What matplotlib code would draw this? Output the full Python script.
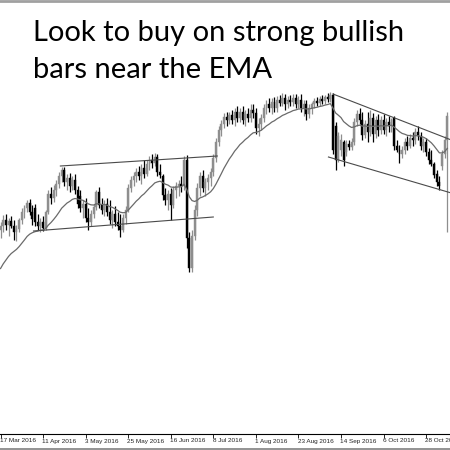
import numpy as np
import matplotlib
matplotlib.use("Agg")
import matplotlib.pyplot as plt

# daily bars, 17 Mar 2016 onwards (prices in chart points)
opens = [70, 74, 80, 75, 79, 74, 68, 71, 80, 88, 92, 97, 88, 92, 78, 74, 78, 72, 88, 106,
         102, 110, 116, 124, 130, 118, 122, 114, 120, 110, 104, 92, 96, 82, 78, 86, 93, 108, 95, 90,
         96, 88, 80, 86, 78, 74, 70, 82, 90, 112, 120, 124, 128, 124, 132, 126, 136, 140, 137, 143,
         128, 124, 105, 100, 106, 95, 110, 114, 116, 114, 140, 62, 32, 64, 90, 112, 124, 112, 118, 122,
         128, 142, 158, 170, 176, 183, 180, 185, 180, 188, 182, 188, 180, 186, 182, 190, 187, 172, 176, 182,
         192, 196, 192, 198, 192, 200, 197, 202, 196, 200, 198, 202, 196, 200, 192, 196, 186, 192, 196, 199,
         197, 201, 199, 203, 201, 205, 174, 140, 150, 158, 148, 156, 153, 158, 178, 186, 180, 165, 176, 168,
         182, 166, 180, 170, 180, 170, 178, 174, 182, 154, 150, 146, 150, 158, 154, 162, 160, 168, 164, 154,
         158, 148, 140, 136, 126, 118, 134, 146, 160]
highs = [78, 85, 86, 82, 84, 80, 75, 82, 92, 95, 100, 101, 95, 96, 86, 82, 84, 90, 110, 113,
         115, 120, 128, 133, 133, 126, 127, 124, 126, 114, 110, 100, 102, 92, 90, 96, 110, 113, 102, 100,
         102, 100, 90, 94, 88, 86, 86, 94, 116, 124, 128, 132, 134, 136, 140, 140, 144, 146, 147, 146,
         136, 126, 112, 110, 112, 114, 118, 120, 124, 144, 145, 68, 70, 95, 117, 128, 130, 122, 126, 132,
         146, 162, 174, 180, 187, 188, 188, 190, 192, 194, 192, 194, 190, 192, 196, 196, 192, 182, 186, 196,
         200, 202, 202, 203, 204, 205, 207, 206, 204, 205, 206, 206, 204, 206, 200, 200, 196, 198, 202, 203,
         204, 205, 205, 207, 208, 207, 178, 168, 166, 160, 160, 160, 162, 182, 190, 192, 188, 180, 188, 190,
         187, 184, 186, 184, 186, 182, 184, 182, 184, 160, 155, 154, 162, 164, 166, 168, 172, 174, 168, 162,
         162, 152, 150, 138, 130, 124, 150, 164, 188]
lows = [62, 68, 70, 64, 72, 60, 59, 68, 76, 82, 88, 85, 75, 74, 70, 68, 69, 70, 86, 96,
        98, 104, 112, 118, 114, 110, 108, 110, 106, 92, 88, 82, 78, 70, 74, 82, 90, 92, 86, 84,
        84, 76, 72, 74, 70, 63, 68, 76, 88, 108, 114, 118, 120, 116, 122, 124, 130, 132, 134, 124,
        122, 100, 95, 90, 80, 92, 102, 104, 108, 110, 52, 28, 28, 60, 84, 104, 108, 104, 110, 114,
        124, 138, 154, 164, 172, 174, 176, 176, 174, 178, 178, 176, 174, 178, 178, 182, 166, 164, 170, 178,
        186, 188, 186, 188, 188, 194, 194, 190, 192, 194, 194, 192, 192, 188, 184, 180, 182, 186, 192, 194,
        194, 196, 196, 198, 198, 146, 130, 138, 144, 134, 144, 150, 150, 155, 174, 176, 160, 162, 158, 164,
        158, 162, 164, 166, 166, 164, 168, 168, 150, 148, 137, 142, 146, 150, 152, 154, 156, 160, 150, 148,
        144, 136, 134, 122, 114, 110, 130, 142, 68]
closes = [74, 80, 75, 79, 74, 68, 71, 80, 88, 92, 97, 88, 81, 78, 74, 78, 72, 88, 106, 102,
          110, 116, 124, 130, 118, 122, 114, 120, 110, 96, 92, 96, 82, 78, 86, 93, 108, 95, 90, 96,
          88, 80, 86, 78, 74, 70, 82, 90, 112, 120, 124, 128, 124, 132, 126, 136, 140, 137, 143, 128,
          125, 105, 100, 106, 95, 110, 114, 116, 114, 140, 62, 32, 64, 90, 112, 124, 112, 118, 122, 128,
          142, 158, 170, 176, 183, 180, 185, 180, 188, 182, 188, 180, 186, 182, 190, 187, 172, 176, 182, 192,
          196, 192, 198, 192, 200, 197, 202, 196, 200, 198, 202, 196, 200, 192, 196, 186, 192, 196, 199, 197,
          201, 199, 203, 201, 205, 150, 140, 164, 160, 140, 156, 153, 158, 178, 186, 180, 165, 176, 168, 182,
          166, 180, 170, 180, 170, 178, 174, 180, 154, 150, 146, 150, 158, 154, 162, 160, 168, 164, 154, 158,
          148, 140, 136, 125, 118, 114, 146, 160, 184]
ema_start = 27
ema_period = 20

date_labels = ["17 Mar 2016", "11 Apr 2016", "3 May 2016", "25 May 2016", "16 Jun 2016",
               "8 Jul 2016", "1 Aug 2016", "23 Aug 2016", "14 Sep 2016", "6 Oct 2016", "28 Oct 2016"]
label_step = 16

# trend lines drawn on the chart: (bar, price) pairs
channels = [((22.5, 134), (81.5, 144)),
            ((12.4, 69), (80, 83)),
            ((125, 206), (169.5, 160)),
            ((123.3, 143), (169.5, 107))]

o = np.array(opens, float)
h = np.array(highs, float)
l = np.array(lows, float)
c = np.array(closes, float)
x = np.arange(len(c))

alpha = 2.0 / (ema_period + 1)
ema = []
prev = ema_start
for v in c:
    prev = prev + alpha * (v - prev)
    ema.append(prev)

fig = plt.figure(figsize=(4.5, 4.5), dpi=100)
ax = fig.add_axes([0, 16 / 450, 1, 432 / 450])

bull = c >= o
cols = np.where(bull, "#8e8e8e", "#000000")
ax.vlines(x, l, h, colors=cols, linewidth=0.9, zorder=2)
ax.bar(x, np.maximum(np.abs(c - o), 0.8), bottom=np.minimum(o, c), width=0.72,
       color=cols, edgecolor=cols, linewidth=0.3, zorder=3)

ax.plot(x, ema, color="#6a6a6a", linewidth=0.9, zorder=4)
for (x0, y0), (x1, y1) in channels:
    ax.plot([x0, x1], [y0, y1], color="#4a4a4a", linewidth=0.8, zorder=4)

ax.set_xlim(-0.2, 169)
ax.set_ylim(-134, 298)
for s in ["top", "left", "right"]:
    ax.spines[s].set_visible(False)
ax.spines["bottom"].set_linewidth(0.8)
ticks = [i * label_step for i in range(len(date_labels))]
ax.set_xticks(ticks)
ax.set_xticklabels([])
ax.tick_params(axis="x", direction="out", length=3, width=0.6, colors="black")
ax.set_yticks([])
for t, lab in zip(ticks, date_labels):
    ax.text(t - 0.3, -138.5, lab, ha="left", va="top", fontsize=4.6,
            family="Liberation Sans", color="#222222", clip_on=False)

fig.text(33 / 450, 1 - 41 / 450, "Look to buy on strong bullish", fontsize=21,
         family="Lato", va="baseline", ha="left", color="black")
fig.text(33 / 450, 1 - 78 / 450, "bars near the EMA", fontsize=21,
         family="Lato", va="baseline", ha="left", color="black")

# window border lines of the screenshot
fig.add_artist(plt.Line2D([0, 1], [1 - 1 / 450, 1 - 1 / 450], color="#a0a0a0", linewidth=2))
fig.add_artist(plt.Line2D([0, 1], [1.2 / 450, 1.2 / 450], color="#808080", linewidth=1.2))

fig.savefig("out.png", dpi=100)
